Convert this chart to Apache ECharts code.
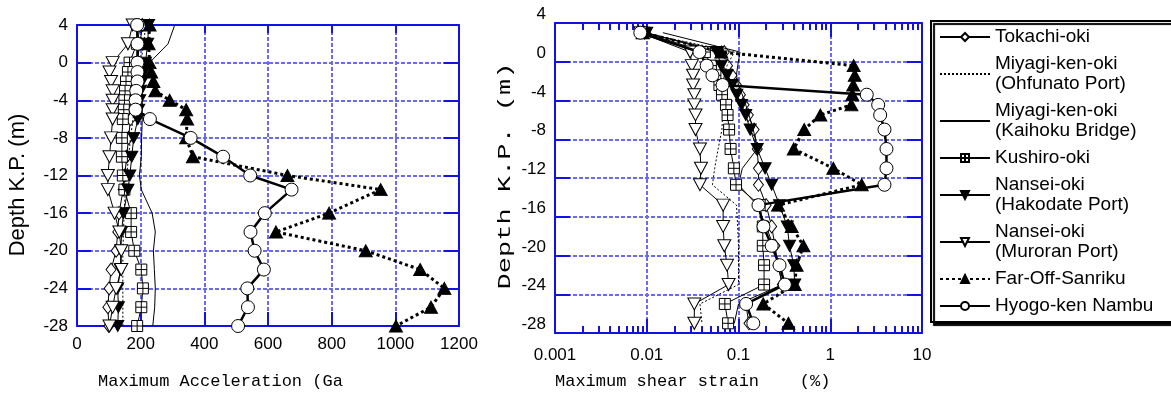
<!DOCTYPE html>
<html>
<head>
<meta charset="utf-8">
<script src="https://cdn.jsdelivr.net/npm/echarts@6/dist/echarts.min.js"></script>
<style>
html, body { margin: 0; padding: 0; background: #fff; }
#chart { width: 1171px; height: 396px; }
</style>
</head>
<body>
<div id="chart"></div>
<script>
// depth (m) of the read points
const accDepth = [4, 2, 0, -1, -2, -3, -4, -5, -6, -8, -10, -12, -13.5, -16, -18, -20, -22, -24, -26, -28];
const strainDepth = [3, 1, -0.4, -1.4, -2.4, -3.4, -4.45, -5.5, -7, -9, -11, -12.7, -14.8, -17, -19, -21, -23, -25, -27];

const names = [
  'Tokachi-oki',
  'Miyagi-ken-oki\n(Ohfunato Port)',
  'Miyagi-ken-oki\n(Kaihoku Bridge)',
  'Kushiro-oki',
  'Nansei-oki\n(Hakodate Port)',
  'Nansei-oki\n(Muroran Port)',
  'Far-Off-Sanriku',
  'Hyogo-ken Nambu'
];

// maximum acceleration (Gal)
const tokachiAcc  = [205, 198, 188, 183, 180, 177, 174, 171, 168, 162, 156, 150, 145, 132, 128, 123, 107, 101, 97, 100];
const ohfunatoAcc = [215, 210, 200, 196, 192, 188, 184, 180, 176, 168, 162, 156, 152, 148, 146, 144, 144, 144, 144, 144];
const kaihokuAcc  = [307, 286, 228, 218, 210, 206, 205, 205, 205, 203, 202, 196, 202, 236, 246, 240, 243, 246, 244, 238];
const kushiroAcc  = [200, 188, 165, 160, 154, 151, 149, 147, 144, 141, 141, 144, 149, 170, 170, 180, 202, 207, 202, 189];
const hakodateAcc = [225, 222, 215, 210, 205, 200, 197, 194, 191, 178, 172, 166, 160, 146, 140, 138, 136, 128, 130, 128];
const muroranAcc  = [175, 160, 112, 102, 107, 112, 112, 112, 112, 107, 102, 97, 97, 118, 133, 139, 139, 123, 112, 102];
const sanrikuAcc  = [228, 225, 228, 233, 240, 246, 291, 343, 346, 343, 364, 661, 954, 792, 625, 907, 1078, 1154, 1112, 1002];
const hyogoAcc    = [189, 190, 190, 190, 190, 186, 184, 184, 229, 357, 459, 544, 674, 590, 545, 558, 587, 535, 537, 506];

// maximum shear strain (%)
const tokachiStrain  = [0.0095, 0.07, 0.076, 0.085, 0.095, 0.105, 0.115, 0.128, 0.148, 0.16, 0.165, 0.165, 0.2, 0.23, 0.25, 0.27, 0.3, 0.12, 0.13];
const ohfunatoStrain = [0.009, 0.09, 0.075, 0.07, 0.068, 0.067, 0.067, 0.067, 0.066, 0.06, 0.055, 0.052, 0.095, 0.098, 0.1, 0.1, 0.1, 0.038, 0.04];
const kaihokuStrain  = [0.015, 0.104, 0.098, 0.095, 0.1, 0.11, 0.12, 0.13, 0.145, 0.16, 0.11, 0.1, 0.16, 0.2, 0.24, 0.27, 0.3, 0.1, 0.09];
const kushiroStrain  = [0.0095, 0.043, 0.05, 0.056, 0.062, 0.066, 0.073, 0.076, 0.079, 0.082, 0.089, 0.094, 0.17, 0.184, 0.184, 0.19, 0.19, 0.071, 0.077];
const hakodateStrain = [0.01, 0.058, 0.065, 0.075, 0.085, 0.096, 0.108, 0.12, 0.134, 0.16, 0.195, 0.23, 0.28, 0.34, 0.36, 0.4, 0.41, null, null];
const muroranStrain  = [0.0085, 0.0297, 0.031, 0.032, 0.032, 0.033, 0.033, 0.034, 0.034, 0.038, 0.039, 0.038, 0.068, 0.068, 0.07, 0.075, 0.078, 0.033, 0.033];
const sanrikuStrain  = [0.009, 0.065, 1.8, 1.85, 1.78, 1.74, 1.7, 0.78, 0.52, 0.4, 1.08, 2.2, 0.27, 0.38, 0.51, 0.43, 0.41, 0.186, 0.35];
const hyogoStrain    = [0.0085, 0.0375, 0.045, 0.052, 0.067, 2.5, 3.33, 3.5, 3.9, 4.1, 4.1, 3.9, 0.165, 0.187, 0.23, 0.28, 0.32, 0.121, 0.145];

const accTicks = [0, 200, 400, 600, 800, 1000, 1200];

const accSets = [tokachiAcc, ohfunatoAcc, kaihokuAcc, kushiroAcc, hakodateAcc, muroranAcc, sanrikuAcc, hyogoAcc];
const strainSets = [tokachiStrain, ohfunatoStrain, kaihokuStrain, kushiroStrain, hakodateStrain, muroranStrain, sanrikuStrain, hyogoStrain];

// marker / line look of each event
const looks = [
  { symbol: 'diamond', size: [10, 13], fill: '#fff', width: 1, type: 'solid' },
  { symbol: 'none', size: 0, fill: '#fff', width: 1, type: [2, 2] },
  { symbol: 'none', size: 0, fill: '#fff', width: 1, type: 'solid' },
  { symbol: 'path://M0,0H10V10H0Z M5,0V10 M0,5H10', size: 11, fill: '#fff', width: 1, type: 'solid' },
  { symbol: 'path://M0,0L12,0L6,10Z', size: [12, 11], fill: '#000', width: 1, type: 'solid' },
  { symbol: 'path://M0,0L12,0L6,10Z', size: [13, 12], fill: '#fff', width: 1, type: 'solid' },
  { symbol: 'triangle', size: [13, 12], fill: '#000', width: 3, type: [3, 3] },
  { symbol: 'circle', size: 13, fill: '#fff', width: 2.5, type: 'solid' }
];

function pairs(vals, depths) {
  const out = [];
  vals.forEach((v, i) => { if (v != null) out.push([v, depths[i]]); });
  return out;
}

const BLUE = '#1212e6';
const GRIDC = '#6a6af2';
const SANS = 'Liberation Sans';
const MONO = 'Liberation Mono';

let series = [];
names.forEach((n, k) => {
  const lk = looks[k];
  const base = {
    name: n,
    type: 'line',
    symbol: lk.symbol,
    symbolSize: lk.size,
    showAllSymbol: true,
    itemStyle: { color: lk.fill, borderColor: '#000', borderWidth: 1 },
    lineStyle: { color: '#000', width: lk.width, type: lk.type },
    z: 2 + k
  };
  series.push(Object.assign({}, base, { xAxisIndex: 0, yAxisIndex: 0, data: pairs(accSets[k], accDepth) }));
  series.push(Object.assign({}, base, { xAxisIndex: 2, yAxisIndex: 2, data: pairs(strainSets[k], strainDepth) }));
});

// legend entries; the two line-only events get no marker in the key
const legendData = names.map((n, k) => looks[k].symbol === 'none'
  ? { name: n, itemStyle: { color: 'rgba(0,0,0,0)', borderColor: 'rgba(0,0,0,0)', borderWidth: 0 } }
  : { name: n });

// log minor tick positions, in log10 space for the helper axes
let minorLog = [];
for (let e = -3; e < 1; e++) {
  for (let m = 2; m <= 9; m++) minorLog.push(Math.log10(m) + e);
}

const depthAxis = (grid, pos, labels, tickLen) => ({
  type: 'value', gridIndex: grid, position: pos, min: -28, max: 4, interval: 4,
  axisLine: { show: true, onZero: false, lineStyle: { color: BLUE, width: 2 } },
  axisTick: { show: true, inside: true, length: tickLen, lineStyle: { color: BLUE, width: 2 } },
  axisLabel: labels ? { show: true, color: '#000', fontFamily: SANS, fontSize: 17, margin: 9 } : { show: false },
  splitLine: labels ? { show: true, lineStyle: { color: GRIDC, width: 2, type: [4, 2] } } : { show: false }
});

const option = {
  animation: false,
  backgroundColor: '#fff',
  grid: [
    { left: 77, top: 25, width: 382, height: 301 },
    { left: 555, top: 23, width: 367, height: 310 },
    { left: 555, top: 23, width: 367, height: 310 }
  ],
  xAxis: [
    {
      type: 'value', gridIndex: 0, position: 'bottom', min: 0, max: 1200, interval: 200,
      axisLine: { show: true, onZero: false, lineStyle: { color: BLUE, width: 2 } },
      axisTick: { show: true, inside: true, length: 14, lineStyle: { color: BLUE, width: 2 } },
      axisLabel: { color: '#000', fontFamily: SANS, fontSize: 17, margin: 10,
        formatter: v => accTicks.includes(v) ? String(v) : '' },
      splitLine: { show: true, lineStyle: { color: GRIDC, width: 2, type: [4, 2] } }
    },
    {
      type: 'value', gridIndex: 0, position: 'top', min: 0, max: 1200, interval: 200,
      axisLine: { show: true, onZero: false, lineStyle: { color: BLUE, width: 2 } },
      axisTick: { show: true, inside: true, length: 8, lineStyle: { color: BLUE, width: 2 } },
      axisLabel: { show: false }, splitLine: { show: false }
    },
    {
      type: 'log', logBase: 10, gridIndex: 1, position: 'bottom', min: 0.001, max: 10,
      axisLine: { show: true, onZero: false, lineStyle: { color: BLUE, width: 2 } },
      axisTick: { show: true, inside: true, length: 14, lineStyle: { color: BLUE, width: 2 } },
      axisLabel: { color: '#000', fontFamily: SANS, fontSize: 17, margin: 14 },
      splitLine: { show: true, lineStyle: { color: GRIDC, width: 2, type: [4, 2] } }
    },
    {
      type: 'log', logBase: 10, gridIndex: 1, position: 'top', min: 0.001, max: 10,
      axisLine: { show: true, onZero: false, lineStyle: { color: BLUE, width: 2 } },
      axisTick: { show: true, inside: true, length: 14, lineStyle: { color: BLUE, width: 2 } },
      axisLabel: { show: false }, splitLine: { show: false }
    },
    {
      type: 'value', gridIndex: 2, position: 'bottom', min: -3, max: 1,
      axisLine: { show: false, onZero: false },
      axisTick: { show: true, inside: true, length: 7, customValues: minorLog, lineStyle: { color: BLUE, width: 2 } },
      axisLabel: { show: false }, splitLine: { show: false }
    },
    {
      type: 'value', gridIndex: 2, position: 'top', min: -3, max: 1,
      axisLine: { show: false, onZero: false },
      axisTick: { show: true, inside: true, length: 7, customValues: minorLog, lineStyle: { color: BLUE, width: 2 } },
      axisLabel: { show: false }, splitLine: { show: false }
    }
  ],
  yAxis: [
    depthAxis(0, 'left', true, 14),
    depthAxis(0, 'right', false, 15),
    Object.assign(depthAxis(1, 'left', true, 15), {
      axisLabel: { show: true, color: '#000', fontFamily: SANS, fontSize: 17, margin: 9, verticalAlign: 'bottom' }
    }),
    depthAxis(1, 'right', false, 15),
    { type: 'value', gridIndex: 2, min: -28, max: 4, show: false }
  ],
  legend: {
    orient: 'vertical', left: 931, top: 21,
    data: legendData,
    itemWidth: 50, itemHeight: 10, itemGap: 7,
    padding: [6, 20, 6, 8],
    borderColor: '#000', borderWidth: 2, borderRadius: 0,
    backgroundColor: '#fff',
    shadowColor: '#000', shadowOffsetX: 3, shadowOffsetY: 3, shadowBlur: 1,
    selectedMode: false,
    textStyle: { color: '#000', fontFamily: SANS, fontSize: 19, lineHeight: 20 }
  },
  graphic: [
    { type: 'text', x: 18, y: 185, rotation: Math.PI / 2,
      style: { text: 'Depth K.P. (m)', fontFamily: SANS, fontSize: 22, fill: '#000', align: 'center', verticalAlign: 'middle' } },
    { type: 'text', x: 505, y: 176, rotation: Math.PI / 2, scaleX: 1.5,
      style: { text: 'Depth K.P. (m)', fontFamily: MONO, fontSize: 18, fill: '#000', align: 'center', verticalAlign: 'middle' } },
    { type: 'text', x: 98, y: 381,
      style: { text: 'Maximum Acceleration (Ga', fontFamily: MONO, fontSize: 17, fill: '#000', align: 'left', verticalAlign: 'middle' } },
    { type: 'text', x: 555, y: 381,
      style: { text: 'Maximum shear strain    (%)', fontFamily: MONO, fontSize: 17, fill: '#000', align: 'left', verticalAlign: 'middle' } }
  ],
  series: series
};

const chart = echarts.init(document.getElementById('chart'), null, { renderer: 'canvas' });
chart.setOption(option);
</script>
</body>
</html>
